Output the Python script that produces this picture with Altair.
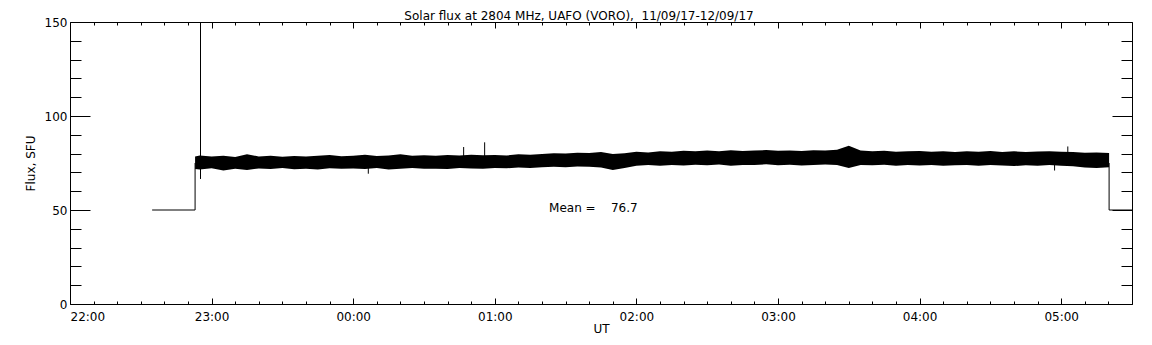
import altair as alt
import pandas as pd

# ---- data (minutes after 22:00 UT) ----
band_t = [53, 55, 60, 65, 70, 75, 80, 85, 90, 95, 100, 105, 110, 115, 120, 125, 130, 135, 140, 145, 150,
          155, 160, 165, 170, 175, 180, 185, 190, 195, 200, 205, 210, 215, 220, 225, 230, 235,
          240, 245, 250, 255, 260, 265, 270, 275, 280, 285, 290, 295, 300, 305, 310, 315, 320, 325, 330,
          335, 340, 345, 350, 355, 360, 365, 370, 375, 380, 385, 390, 395, 400, 405, 410, 415, 420, 425,
          430, 435, 440.3]
band_hi = [78.5, 79.0, 78.4, 78.8, 78.2, 79.6, 78.5, 78.9, 78.3, 78.7, 78.4, 78.9, 79.2, 78.6, 78.8, 79.4, 78.7, 79.0, 79.6, 78.8, 79.1,
           78.9, 79.2, 79.0, 79.4, 79.1, 79.3, 79.0, 79.6, 79.4, 79.8, 80.2, 80.0, 80.5, 80.3, 80.8, 79.8, 80.2,
           81.0, 80.6, 81.3, 81.0, 81.5, 81.2, 81.6, 81.3, 81.8, 81.4, 81.6, 81.9, 81.5, 81.7, 81.4, 81.8, 81.6, 82.0, 84.2,
           81.6, 81.2, 81.5, 81.0, 81.3, 81.4, 81.0, 81.2, 80.8, 81.3, 81.0, 81.4, 80.9, 81.2, 80.8, 81.1, 81.3, 81.0, 80.9,
           80.4, 80.6, 80.3]
band_lo = [71.8, 71.5, 72.2, 71.0, 71.9, 71.3, 72.1, 71.8, 72.3, 71.7, 72.0, 71.6, 72.2, 71.9, 72.1, 71.8, 72.3, 71.6, 72.0, 72.4, 71.9,
           72.0, 71.8, 72.3, 72.1, 71.9, 72.4, 72.2, 72.6, 72.3, 72.8, 73.0, 72.7, 73.2, 73.0, 72.6, 71.3, 72.4,
           73.6, 73.9, 73.5, 74.0, 73.7, 74.1, 73.8, 74.2, 73.6, 74.0, 73.9, 74.3, 73.8, 74.1, 73.7, 74.0, 74.2, 73.9, 72.4,
           74.0, 73.8, 74.1, 73.6, 74.0, 73.7, 73.9, 73.5, 73.8, 74.0, 73.6, 73.9, 73.7, 73.4, 73.8, 73.5, 73.9, 73.6, 73.3,
           72.6, 72.3, 72.8]

step_seg = ["pre", "pre", "pre", "post", "post", "post"]
step_t = [34.8, 53, 53, 440.3, 440.3, 450]
step_v = [50, 50, 75, 75, 50, 50]
step_ord = [0, 1, 2, 0, 1, 2]

spike_t = [55.3, 126.4, 166.8, 175.7, 417.2, 422.8]
spike_lo = [66.5, 69.3, 76.0, 76.0, 71.0, 78.0]
spike_hi = [150, 77.0, 83.5, 86.0, 78.0, 83.8]

hour_labels = ["22:00", "23:00", "00:00", "01:00", "02:00", "03:00", "04:00", "05:00"]
major_x = [0, 60, 120, 180, 240, 300, 360, 420]
minor_x = list(range(0, 451, 10))
major_y = [0, 50, 100, 150]
minor_y = list(range(0, 151, 10))

mean_text = "Mean =\u00a0\u00a0\u00a0 76.7"
mean_t = [203]
mean_v = [51]

title_text = "Solar flux at 2804 MHz, UAFO (VORO),\u00a0\u00a011/09/17-12/09/17"

W, H = 1062, 282
FONT = "DejaVu Sans"

band_df = pd.DataFrame({"t": band_t, "lo": band_lo, "hi": band_hi})
step_df = pd.DataFrame({"seg": step_seg, "t": step_t, "v": step_v, "o": step_ord})
spike_df = pd.DataFrame({"t": spike_t, "lo": spike_lo, "hi": spike_hi})
mean_df = pd.DataFrame({"t": mean_t, "v": mean_v, "txt": [mean_text]})

xs = alt.Scale(domain=[0, 450], nice=False, zero=False)
ys = alt.Scale(domain=[0, 150], nice=False, zero=False)

label_expr = "[" + ",".join("'%s'" % s for s in hour_labels) + "][datum.value/60]"

xtick = {"condition": {"test": "datum.value % 60 === 0", "value": 6}, "value": 3}
ytick = {"condition": {"test": "datum.value % 50 === 0", "value": 20}, "value": 11}

common = dict(labelFont=FONT, labelFontSize=12, labelColor="black", titleFont=FONT,
              titleFontSize=12, titleFontWeight="normal", titleColor="black", grid=False, domain=False)

band = alt.Chart(band_df).mark_area(color="black", interpolate="linear", opacity=1).encode(
    x=alt.X("t:Q", scale=xs, axis=alt.Axis(orient="bottom", values=major_x, labelExpr=label_expr,
                                          ticks=False, title="UT", labelPadding=7, titlePadding=1,
                                          **common)),
    y=alt.Y("lo:Q", scale=ys, axis=alt.Axis(orient="left", values=major_y, ticks=False,
                                           title="Flux, SFU", labelPadding=3, titlePadding=7,
                                           **common)),
    y2="hi:Q",
)

steps = alt.Chart(step_df).mark_line(color="black", strokeWidth=1, interpolate="linear").encode(
    x=alt.X("t:Q", scale=xs, axis=alt.Axis(orient="top", offset=-H, values=minor_x, labels=False,
                                          title=None, tickSize=xtick, tickColor="black", **common)),
    y=alt.Y("v:Q", scale=ys, axis=alt.Axis(orient="right", offset=-W, values=minor_y, labels=False,
                                          title=None, tickSize=ytick, tickColor="black", **common)),
    detail="seg:N",
    order="o:Q",
)

spikes = alt.Chart(spike_df).mark_rule(color="black", strokeWidth=1).encode(
    x=alt.X("t:Q", scale=xs, axis=alt.Axis(orient="bottom", offset=-H, values=minor_x, labels=False,
                                          title=None, tickSize=xtick, tickColor="black", **common)),
    y=alt.Y("lo:Q", scale=ys, axis=alt.Axis(orient="left", offset=-W, values=minor_y, labels=False,
                                           title=None, tickSize=ytick, tickColor="black", **common)),
    y2="hi:Q",
)

mean = alt.Chart(mean_df).mark_text(align="left", baseline="middle", font=FONT, fontSize=12,
                                    color="black").encode(
    x=alt.X("t:Q", scale=xs, axis=None),
    y=alt.Y("v:Q", scale=ys, axis=None),
    text="txt:N",
)

chart = alt.layer(band, steps, spikes, mean).resolve_axis(
    x="independent", y="independent"
).properties(
    width=W, height=H,
    background="white",
    title=alt.TitleParams(title_text, font=FONT, fontSize=12, fontWeight="normal", color="black",
                          anchor="middle", offset=2, dx=-22, dy=9),
    autosize=alt.AutoSizeParams(type="none"),
    padding={"left": 62, "top": 14, "right": 12, "bottom": 33},
).configure_view(
    stroke="black", strokeWidth=1
)

chart.save("out.html", embed_options={"renderer": "svg", "actions": False})
